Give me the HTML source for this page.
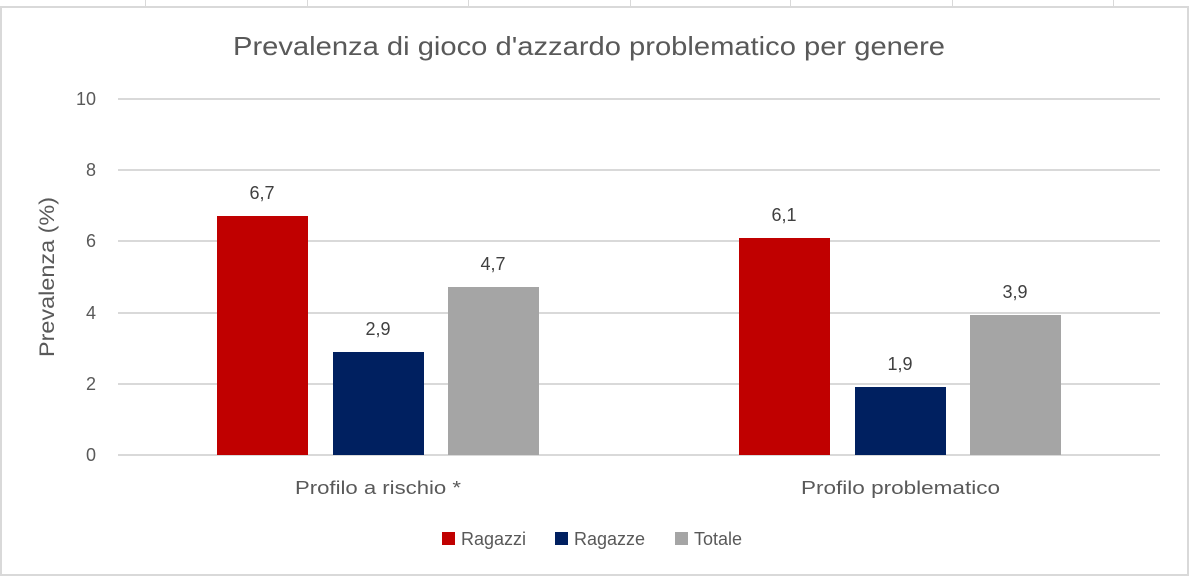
<!DOCTYPE html>
<html><head><meta charset="utf-8"><style>
body{margin:0;background:#fff;}
svg{display:block;font-family:"Liberation Sans",sans-serif;}
</style></head><body>
<svg width="1192" height="578" viewBox="0 0 1192 578">
<rect width="1192" height="578" fill="#fff"/>
<g stroke="#d9d9d9" stroke-width="1">
<line x1="145.5" y1="0" x2="145.5" y2="6"/><line x1="307.5" y1="0" x2="307.5" y2="6"/>
<line x1="468.5" y1="0" x2="468.5" y2="6"/><line x1="630.5" y1="0" x2="630.5" y2="6"/>
<line x1="790.5" y1="0" x2="790.5" y2="6"/><line x1="952.5" y1="0" x2="952.5" y2="6"/>
<line x1="1113.5" y1="0" x2="1113.5" y2="6"/>
</g>
<rect x="1" y="7" width="1187" height="568" fill="#fff" stroke="#d9d9d9" stroke-width="2"/>
<text x="233" y="55" textLength="712" lengthAdjust="spacingAndGlyphs" font-size="26" fill="#595959">Prevalenza di gioco d'azzardo problematico per genere</text>
<g stroke="#d9d9d9" stroke-width="2">
<line x1="118" y1="99" x2="1160" y2="99"/><line x1="118" y1="170" x2="1160" y2="170"/>
<line x1="118" y1="241" x2="1160" y2="241"/><line x1="118" y1="313" x2="1160" y2="313"/>
<line x1="118" y1="384" x2="1160" y2="384"/><line x1="118" y1="455" x2="1160" y2="455"/>
</g>
<g font-size="18" fill="#595959" text-anchor="end">
<text x="96" y="105">10</text><text x="96" y="176">8</text><text x="96" y="247">6</text>
<text x="96" y="319">4</text><text x="96" y="390">2</text><text x="96" y="461">0</text>
</g>
<text transform="translate(54,277) rotate(-90)" text-anchor="middle" font-size="21" textLength="160" lengthAdjust="spacingAndGlyphs" fill="#595959">Prevalenza (%)</text>
<rect x="217" y="216" width="91" height="239" fill="#c00000"/>
<rect x="333" y="352" width="91" height="103" fill="#002060"/>
<rect x="448" y="287" width="91" height="168" fill="#a5a5a5"/>
<rect x="739" y="238" width="91" height="217" fill="#c00000"/>
<rect x="855" y="387" width="91" height="68" fill="#002060"/>
<rect x="970" y="315" width="91" height="140" fill="#a5a5a5"/>
<g font-size="18" fill="#404040" text-anchor="middle">
<text x="262" y="199">6,7</text><text x="378" y="335">2,9</text><text x="493" y="270">4,7</text>
<text x="784" y="221">6,1</text><text x="900" y="370">1,9</text><text x="1015" y="298">3,9</text>
</g>
<g font-size="18" fill="#595959">
<text x="295" y="494" textLength="166" lengthAdjust="spacingAndGlyphs">Profilo a rischio *</text>
<text x="801" y="494" textLength="199" lengthAdjust="spacingAndGlyphs">Profilo problematico</text>
</g>
<rect x="442" y="532" width="13" height="13" fill="#c00000"/>
<text x="461" y="545" font-size="18" fill="#595959">Ragazzi</text>
<rect x="555" y="532" width="13" height="13" fill="#002060"/>
<text x="574" y="545" font-size="18" fill="#595959">Ragazze</text>
<rect x="675" y="532" width="13" height="13" fill="#a5a5a5"/>
<text x="694" y="545" font-size="18" fill="#595959">Totale</text>
</svg>
</body></html>
